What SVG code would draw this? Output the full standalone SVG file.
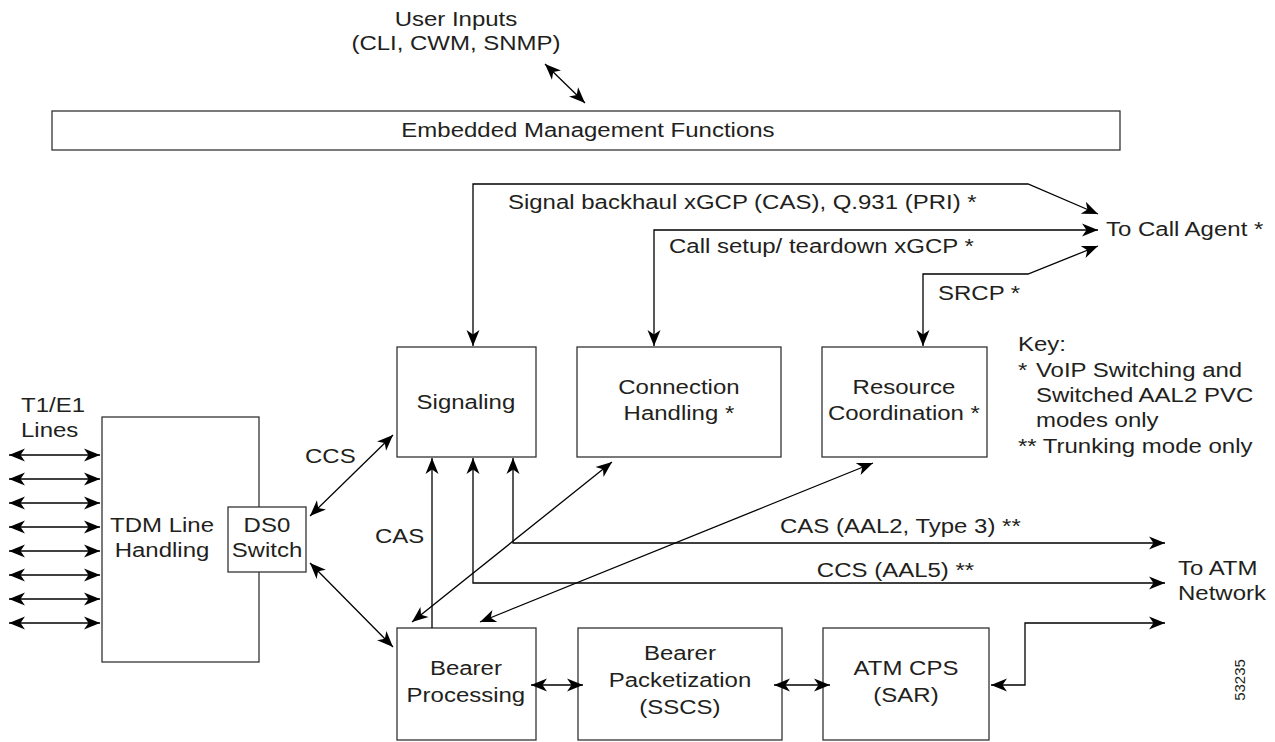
<svg xmlns="http://www.w3.org/2000/svg" width="1275" height="742" viewBox="0 0 1275 742">
<style>
text{font-family:"Liberation Sans",Arial,Helvetica,sans-serif;font-size:21px;fill:#231f20}
.m{text-anchor:middle}
.n{fill:#fff;stroke:#333;stroke-width:1.3}
.c path,.c line{fill:none;stroke:#000;stroke-width:1.3}
.a2{marker-start:url(#ah);marker-end:url(#ah)}
.a1{marker-end:url(#ah)}
</style>
<defs>
<marker id="ah" markerUnits="userSpaceOnUse" viewBox="0 -8 17 16" refX="16" refY="0" markerWidth="17" markerHeight="16" orient="auto-start-reverse">
<path d="M0,-6.5 L16,0 L0,6.5 L4.5,0 z" fill="#000" stroke="none"/>
</marker>
</defs>

<g id="user-inputs">
<text class="m" transform="scale(1.1428 1)" x="399" y="26">User Inputs</text>
<text class="m" transform="scale(1.1428 1)" x="399" y="50">(CLI, CWM, SNMP)</text>
</g>
<g id="embedded">
<rect class="n" x="52" y="111" width="1068" height="39"/>
<text class="m" transform="scale(1.1428 1)" x="514.5" y="137">Embedded Management Functions</text>
</g>
<g id="tdm">
<rect class="n" x="102" y="417" width="157" height="245"/>
<text class="m" transform="scale(1.1428 1)" x="141.8" y="532">TDM Line</text>
<text class="m" transform="scale(1.1428 1)" x="141.8" y="557">Handling</text>
</g>
<g id="ds0">
<rect class="n" x="228" y="507" width="78" height="65"/>
<text class="m" transform="scale(1.1428 1)" x="233.6" y="532">DS0</text>
<text class="m" transform="scale(1.1428 1)" x="233.6" y="557">Switch</text>
</g>
<g id="signaling">
<rect class="n" x="397" y="347" width="139" height="110"/>
<text class="m" transform="scale(1.1428 1)" x="407.7" y="409">Signaling</text>
</g>
<g id="connection">
<rect class="n" x="577" y="347" width="204" height="110"/>
<text class="m" transform="scale(1.1428 1)" x="594.1" y="394">Connection</text>
<text class="m" transform="scale(1.1428 1)" x="594.1" y="420">Handling *</text>
</g>
<g id="resource">
<rect class="n" x="822" y="347" width="165" height="110"/>
<text class="m" transform="scale(1.1428 1)" x="791" y="394">Resource</text>
<text class="m" transform="scale(1.1428 1)" x="791" y="420">Coordination *</text>
</g>
<g id="bearer-processing">
<rect class="n" x="397" y="628" width="139" height="112"/>
<text class="m" transform="scale(1.1428 1)" x="407.7" y="675">Bearer</text>
<text class="m" transform="scale(1.1428 1)" x="407.7" y="702">Processing</text>
</g>
<g id="bearer-packetization">
<rect class="n" x="578" y="628" width="204" height="112"/>
<text class="m" transform="scale(1.1428 1)" x="595" y="660">Bearer</text>
<text class="m" transform="scale(1.1428 1)" x="595" y="687">Packetization</text>
<text class="m" transform="scale(1.1428 1)" x="595" y="714">(SSCS)</text>
</g>
<g id="atm-cps">
<rect class="n" x="823" y="628" width="166" height="112"/>
<text class="m" transform="scale(1.1428 1)" x="792.8" y="675">ATM CPS</text>
<text class="m" transform="scale(1.1428 1)" x="792.8" y="702">(SAR)</text>
</g>
<g id="call-agent">
<text transform="scale(1.1428 1)" x="967.8" y="236">To Call Agent *</text>
</g>
<g id="atm-network">
<text transform="scale(1.1428 1)" x="1030.8" y="575">To ATM</text>
<text transform="scale(1.1428 1)" x="1030.8" y="600">Network</text>
</g>
<g id="t1e1">
<text transform="scale(1.1428 1)" x="18.4" y="412">T1/E1</text>
<text transform="scale(1.1428 1)" x="18.4" y="437">Lines</text>
</g>
<g id="key">
<text transform="scale(1.1428 1)" x="890.7" y="351">Key:</text>
<text transform="scale(1.1428 1)" x="890.7" y="377">*</text>
<text transform="scale(1.1428 1)" x="906.5" y="377">VoIP Switching and</text>
<text transform="scale(1.1428 1)" x="906.5" y="402">Switched AAL2 PVC</text>
<text transform="scale(1.1428 1)" x="906.5" y="427">modes only</text>
<text transform="scale(1.1428 1)" x="890.7" y="453">** Trunking mode only</text>
</g>

<g id="connectors" class="c">
<line class="a2" x1="545" y1="64" x2="585" y2="103"/>
<path class="a2" d="M473,346 L473,184 L1028,184 L1098,214"/>
<path class="a2" d="M654,346 L654,230 L1098,230"/>
<path class="a2" d="M923,346 L923,274 L1028,274 L1098,246"/>
<line class="a2" x1="9" y1="455" x2="100" y2="455"/>
<line class="a2" x1="9" y1="479" x2="100" y2="479"/>
<line class="a2" x1="9" y1="503" x2="100" y2="503"/>
<line class="a2" x1="9" y1="527" x2="100" y2="527"/>
<line class="a2" x1="9" y1="551" x2="100" y2="551"/>
<line class="a2" x1="9" y1="575" x2="100" y2="575"/>
<line class="a2" x1="9" y1="599" x2="100" y2="599"/>
<line class="a2" x1="9" y1="623" x2="100" y2="623"/>
<line class="a2" x1="310" y1="516" x2="393" y2="435"/>
<line class="a2" x1="310" y1="563" x2="393" y2="647"/>
<line class="a1" x1="432" y1="628" x2="432" y2="458"/>
<path class="a2" d="M473,458 L473,583 L1165,583"/>
<path class="a2" d="M513,458 L513,543 L1165,543"/>
<line class="a2" x1="612" y1="462" x2="412" y2="622"/>
<line class="a2" x1="873" y1="463" x2="480" y2="622"/>
<line class="a2" x1="531" y1="685" x2="583" y2="685"/>
<line class="a2" x1="774" y1="685" x2="830" y2="685"/>
<path class="a2" d="M991,685 L1025,685 L1025,623 L1165,623"/>
</g>

<g id="labels">
<text transform="scale(1.1428 1)" x="444.5" y="209">Signal backhaul xGCP (CAS), Q.931 (PRI) *</text>
<text transform="scale(1.1428 1)" x="585.4" y="253">Call setup/ teardown xGCP *</text>
<text transform="scale(1.1428 1)" x="820.8" y="300">SRCP *</text>
<text transform="scale(1.1428 1)" x="266.9" y="463">CCS</text>
<text transform="scale(1.1428 1)" x="328.1" y="543">CAS</text>
<text transform="scale(1.1428 1)" x="682.5" y="533">CAS (AAL2, Type 3) **</text>
<text transform="scale(1.1428 1)" x="714.8" y="577">CCS (AAL5) **</text>
<text class="m" transform="translate(1245,680) rotate(-90)" x="0" y="0" style="font-size:15px">53235</text>
</g>
</svg>
